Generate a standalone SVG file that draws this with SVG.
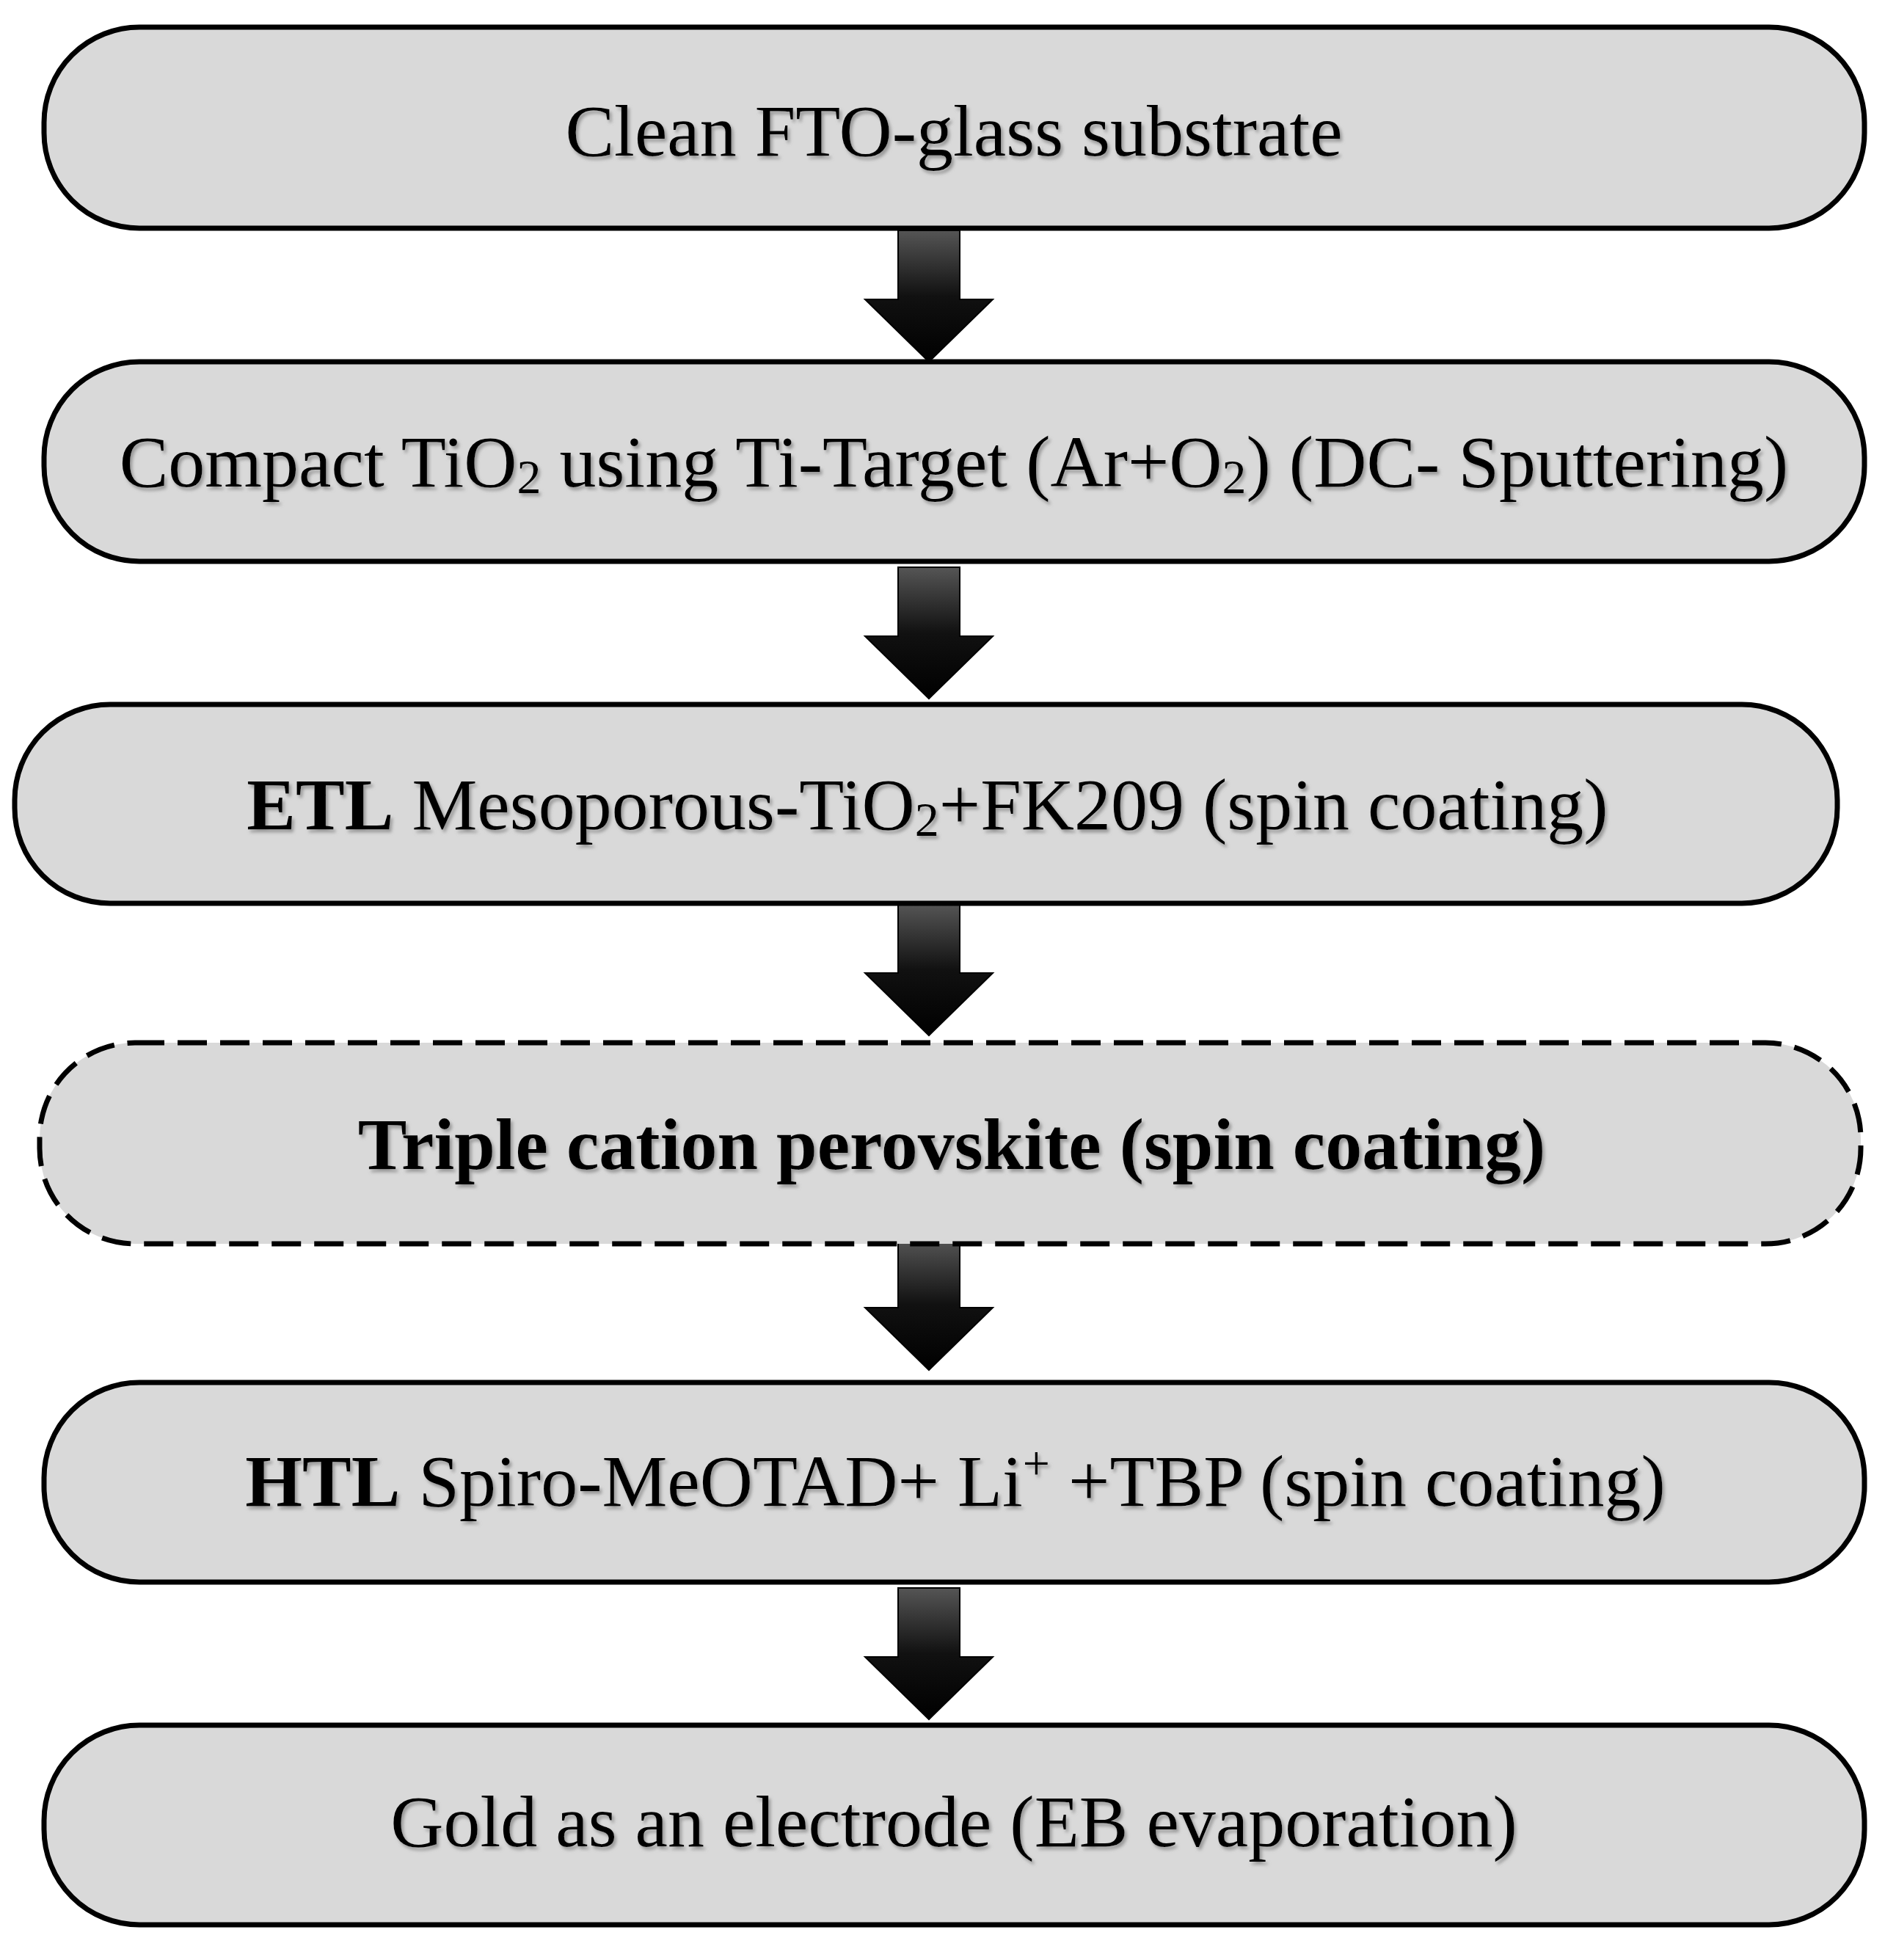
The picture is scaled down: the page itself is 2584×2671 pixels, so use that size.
<svg xmlns="http://www.w3.org/2000/svg" width="2584" height="2671" viewBox="0 0 2584 2671">
<style>
.box{fill:#d9d9d9;stroke:#000;stroke-width:7}
.dash{stroke-dasharray:40 18}
text{font-family:"Liberation Serif","Times New Roman",serif;font-size:100px;fill:#000;text-anchor:middle;filter:url(#sh)}
.b{font-weight:bold}
.sub{font-size:66px}
.sup{font-size:66px}
</style>
<defs>
<filter id="sh" x="-5%" y="-30%" width="110%" height="160%">
<feDropShadow dx="3" dy="4" stdDeviation="2" flood-color="#888" flood-opacity="0.8"/>
</filter>
<linearGradient id="g" x1="0" y1="0" x2="0" y2="1">
<stop offset="0" stop-color="#555"/><stop offset="0.5" stop-color="#111"/><stop offset="1" stop-color="#000"/>
</linearGradient>
<path id="arr" d="M-42,0 H42 V94 H87 L0,179 L-87,94 H-42 Z" fill="url(#g)" stroke="#000" stroke-width="2"/>
</defs>
<g id="connectors">
<use href="#arr" x="1266" y="314"/>
<use href="#arr" x="1266" y="773"/>
<use href="#arr" x="1266" y="1232"/>
<use href="#arr" x="1266" y="1688"/>
<use href="#arr" x="1266" y="2164"/>
</g>
<g id="n1"><rect class="box" x="60" y="37" width="2481" height="274" rx="130"/>
<text x="1300" y="212">Clean FTO-glass substrate</text></g>
<g id="n2"><rect class="box" x="60" y="493" width="2481" height="272" rx="130"/>
<text x="1300" y="663">Compact TiO<tspan class="sub" dy="9">2</tspan><tspan dy="-9"> using Ti-Target (Ar+O</tspan><tspan class="sub" dy="9">2</tspan><tspan dy="-9">) (DC- Sputtering)</tspan></text></g>
<g id="n3"><rect class="box" x="20" y="960" width="2484" height="271" rx="130"/>
<text x="1264" y="1130"><tspan class="b">ETL</tspan> Mesoporous-TiO<tspan class="sub" dy="9">2</tspan><tspan dy="-9">+FK209 (spin coating)</tspan></text></g>
<g id="n4"><rect class="box dash" x="54" y="1421" width="2482" height="274" rx="130"/>
<text class="b" x="1297" y="1593">Triple cation perovskite (spin coating)</text></g>
<g id="n5"><rect class="box" x="60" y="1884" width="2481" height="272" rx="130"/>
<text x="1302" y="2052"><tspan class="b">HTL</tspan> Spiro-MeOTAD+ Li<tspan class="sup" dy="-36">+</tspan><tspan dy="36"> +TBP (spin coating)</tspan></text></g>
<g id="n6"><rect class="box" x="60" y="2351" width="2481" height="272" rx="130"/>
<text x="1300" y="2516">Gold as an electrode (EB evaporation)</text></g>
</svg>
